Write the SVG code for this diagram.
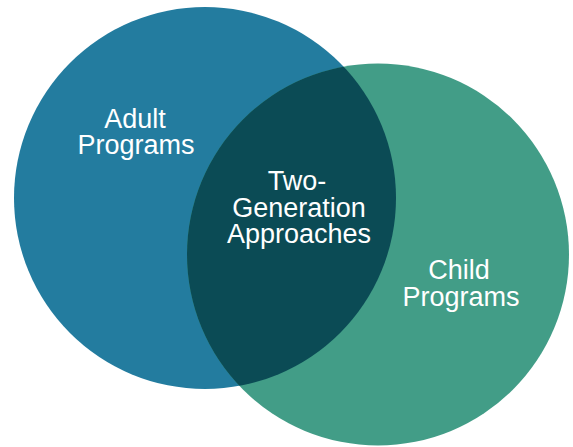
<svg xmlns="http://www.w3.org/2000/svg" width="573" height="447" viewBox="0 0 573 447">
  <style>
    .lbl { font-family: "Liberation Sans", Arial, sans-serif; font-size: 27px; fill: #ffffff; text-anchor: middle; }
  </style>
  <defs>
    <clipPath id="clipLeft">
      <circle cx="205" cy="198" r="191"/>
    </clipPath>
  </defs>
  <rect width="573" height="447" fill="#ffffff"/>
  <g id="adult">
    <circle cx="205" cy="198" r="191" fill="#237C9F"/>
    <text class="lbl"><tspan x="135" y="128">Adult</tspan><tspan x="136" y="154">Programs</tspan></text>
  </g>
  <g id="child">
    <circle cx="378" cy="254.5" r="191" fill="#429D87"/>
    <text class="lbl"><tspan x="459" y="279">Child</tspan><tspan x="461" y="306">Programs</tspan></text>
  </g>
  <g id="two-generation">
    <circle cx="378" cy="254.5" r="191" fill="#0B4B55" clip-path="url(#clipLeft)"/>
    <text class="lbl"><tspan x="297" y="190">Two-</tspan><tspan x="299" y="216.5">Generation</tspan><tspan x="299" y="243">Approaches</tspan></text>
  </g>
  <g id="connectors"/>
</svg>
